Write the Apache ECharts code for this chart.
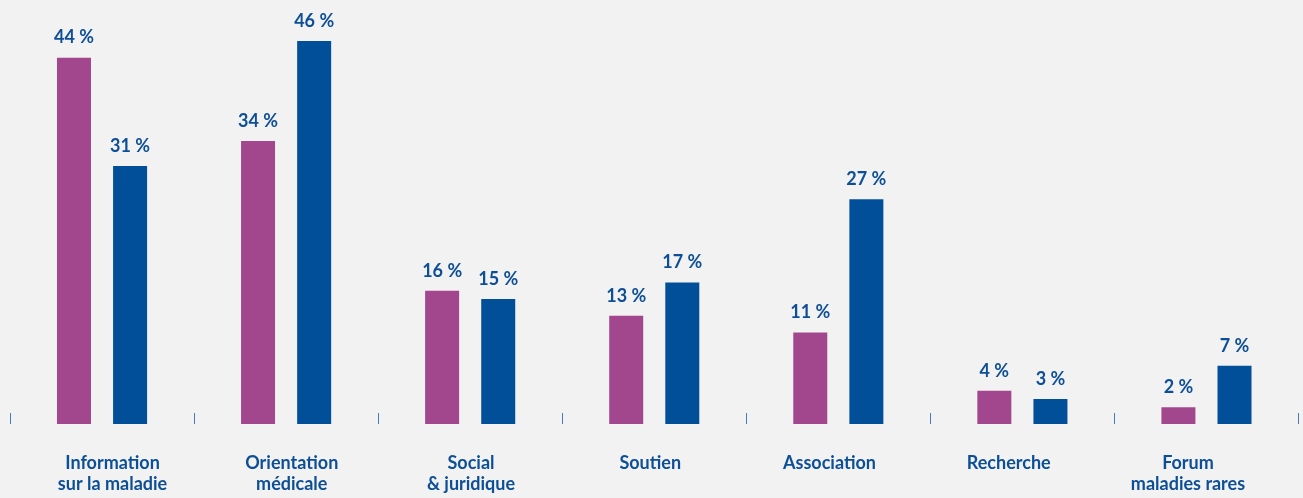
<!DOCTYPE html>
<html>
<head>
<meta charset="utf-8">
<script src="https://cdn.jsdelivr.net/npm/echarts@6/dist/echarts.min.js"></script>
<style>
  html, body { margin: 0; padding: 0; background: #f2f2f2; }
  #chart { width: 1303px; height: 498px; }
</style>
</head>
<body>
<div id="chart"></div>
<script>
// Categories (two-line labels) and the two series of percentages
const categories = [
  'Information\nsur la maladie',
  'Orientation\nmédicale',
  'Social\n& juridique',
  'Soutien',
  'Association',
  'Recherche',
  'Forum\nmaladies rares'
];
const seriesA = [44, 34, 16, 13, 11, 4, 2];
const seriesB = [31, 46, 15, 17, 27, 3, 7];

const PURPLE = '#a2468d';
const BLUE = '#004f98';
const TEXT = '#0d4f96';
const FONT = 'Lato, "Open Sans", sans-serif';

const valueLabel = {
  show: true,
  position: 'top',
  distance: 11,
  formatter: '{c} %',
  color: TEXT,
  fontFamily: FONT,
  fontWeight: 'bold',
  fontSize: 18
};

const chart = echarts.init(document.getElementById('chart'), null, { renderer: 'canvas' });
chart.setOption({
  backgroundColor: '#f2f2f2',
  animation: false,
  grid: [
    // bars and boundary ticks
    { left: 10, right: 4.5, top: 7.7, bottom: 74, containLabel: false },
    // category names, set on a slightly narrower band
    { left: 22.9, right: 25.4, top: 7.7, bottom: 74, containLabel: false }
  ],
  xAxis: [
    {
      type: 'category',
      gridIndex: 0,
      data: categories,
      axisLine: { show: false },
      axisTick: { show: true, inside: true, length: 11, lineStyle: { color: '#4a7bb5', width: 1 } },
      axisLabel: { show: false }
    },
    {
      type: 'category',
      gridIndex: 1,
      data: categories,
      axisLine: { show: false },
      axisTick: { show: false },
      axisLabel: {
        margin: 28.5,
        color: TEXT,
        fontFamily: FONT,
        fontWeight: 'bold',
        fontSize: 18,
        lineHeight: 21,
        interval: 0
      }
    }
  ],
  yAxis: [
    { type: 'value', gridIndex: 0, min: 0, max: 50, show: false, splitLine: { show: false } },
    { type: 'value', gridIndex: 1, min: 0, max: 50, show: false, splitLine: { show: false } }
  ],
  series: [
    {
      type: 'bar',
      xAxisIndex: 0,
      yAxisIndex: 0,
      data: seriesA,
      barWidth: 34,
      barGap: '65%',
      itemStyle: { color: PURPLE },
      label: valueLabel
    },
    {
      type: 'bar',
      xAxisIndex: 0,
      yAxisIndex: 0,
      data: seriesB,
      barWidth: 34,
      barGap: '65%',
      itemStyle: { color: BLUE },
      label: valueLabel
    }
  ]
});
</script>
</body>
</html>
